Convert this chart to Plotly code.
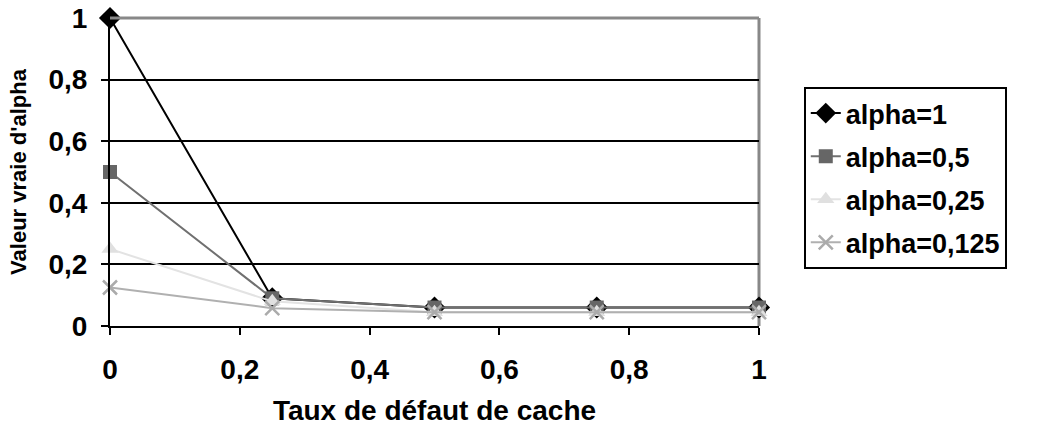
import plotly.graph_objects as go

x_vals = [0, 0.25, 0.5, 0.75, 1]
series_names = ["alpha=1", "alpha=0,5", "alpha=0,25", "alpha=0,125"]
alpha_1 = [1.0, 0.09, 0.06, 0.06, 0.06]
alpha_05 = [0.5, 0.09, 0.06, 0.06, 0.06]
alpha_025 = [0.25, 0.08, 0.045, 0.045, 0.045]
alpha_0125 = [0.125, 0.058, 0.045, 0.045, 0.045]

x_ticks = [0, 0.2, 0.4, 0.6, 0.8, 1]
x_ticktext = ["0", "0,2", "0,4", "0,6", "0,8", "1"]
y_ticks = [0, 0.2, 0.4, 0.6, 0.8, 1]
y_ticktext = ["0", "0,2", "0,4", "0,6", "0,8", "1"]

FONT = "Liberation Sans, Arial, sans-serif"

styles = [
    dict(color="#000000", symbol="diamond", size=17, line_color="#000000"),
    dict(color="#666666", symbol="square", size=14, line_color="#707070"),
    dict(color="#e0e0e0", symbol="triangle-up", size=15, line_color="#e3e3e3"),
    dict(color="#ababab", symbol="x-thin", size=14, line_color="#b0b0b0"),
]

fig = go.Figure()
for name, ys, st in zip(series_names, [alpha_1, alpha_05, alpha_025, alpha_0125], styles):
    marker = dict(symbol=st["symbol"], size=st["size"], color=st["color"])
    if st["symbol"] == "x-thin":
        marker["line"] = dict(color=st["color"], width=2.5)
    fig.add_trace(go.Scatter(
        x=x_vals, y=ys, name=name, mode="lines+markers",
        line=dict(color=st["line_color"], width=2),
        marker=marker, cliponaxis=False, legendgroup=name,
    ))

fig.update_layout(
    width=1043, height=432,
    margin=dict(l=110, r=284, t=18, b=106, autoexpand=False),
    paper_bgcolor="white", plot_bgcolor="white",
    font=dict(family=FONT, size=28, color="black"),
    showlegend=True,
    legend=dict(
        x=1.069, y=0.776, xanchor="left", yanchor="top",
        bordercolor="black", borderwidth=2,
        font=dict(family=FONT, size=27, color="black", weight="bold"),
        tracegroupgap=5, itemwidth=30,
    ),
    xaxis=dict(
        range=[0, 1], tickvals=x_ticks, ticktext=x_ticktext,
        showgrid=False, zeroline=False, automargin=False,
        showline=True, linecolor="black", linewidth=2,
        ticks="outside", ticklen=7, tickwidth=2, tickcolor="black",
        ticklabelstandoff=10, ticklabeloverflow="allow",
        tickfont=dict(family=FONT, size=28, weight="bold"),
        title=dict(text="Taux de défaut de cache", standoff=17,
                   font=dict(family=FONT, size=28, weight="bold")),
    ),
    yaxis=dict(
        range=[0, 1], tickvals=y_ticks, ticktext=y_ticktext,
        showgrid=True, gridcolor="black", gridwidth=2, zeroline=False,
        automargin=False,
        showline=True, linecolor="black", linewidth=2,
        ticks="outside", ticklen=7, tickwidth=2, tickcolor="black",
        ticklabelstandoff=8, ticklabeloverflow="allow",
        tickfont=dict(family=FONT, size=28, weight="bold"),
        title=dict(text="Valeur vraie d'alpha", standoff=16,
                   font=dict(family=FONT, size=22, weight="bold")),
    ),
    shapes=[
        dict(type="line", xref="paper", yref="paper", x0=0, x1=1, y0=1, y1=1,
             line=dict(color="#888888", width=3), layer="above"),
        dict(type="line", xref="paper", yref="paper", x0=1, x1=1, y0=0, y1=1,
             line=dict(color="#888888", width=3), layer="below"),
    ],
)

fig.write_html("out.html", config={"displayModeBar": False},
               post_script="document.body.style.margin='0';")
